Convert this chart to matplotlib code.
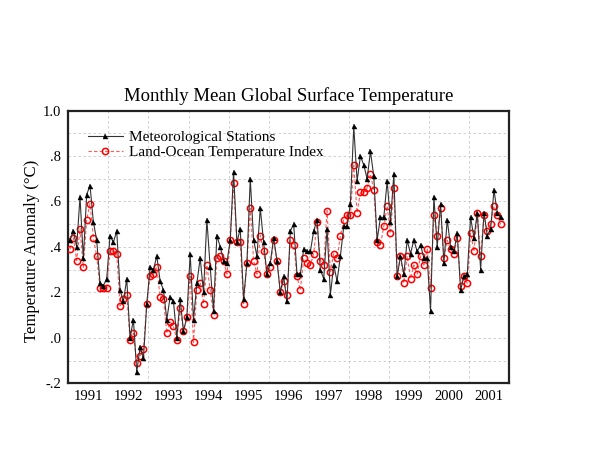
import numpy as np
import matplotlib
matplotlib.use("Agg")
import matplotlib.pyplot as plt
from matplotlib.ticker import FixedLocator

start_year = 1991
met_stations = [
    0.43, 0.47, 0.40, 0.62, 0.35, 0.63, 0.67, 0.51, 0.43, 0.24, 0.23, 0.26,
    0.45, 0.42, 0.47, 0.21, 0.16, 0.26, 0.00, 0.08, -0.15, -0.04, -0.09, 0.15,
    0.31, 0.30, 0.36, 0.25, 0.21, 0.08, 0.18, 0.16, 0.00, 0.17, 0.03, 0.09,
    0.37, 0.08, 0.24, 0.35, 0.20, 0.52, 0.31, 0.12, 0.45, 0.40, 0.34, 0.33,
    0.43, 0.73, 0.42, 0.48, 0.17, 0.33, 0.70, 0.43, 0.36, 0.57, 0.42, 0.28,
    0.33, 0.44, 0.34, 0.20, 0.27, 0.16, 0.47, 0.50, 0.28, 0.28, 0.39, 0.38,
    0.38, 0.47, 0.52, 0.30, 0.26, 0.48, 0.19, 0.32, 0.25, 0.36, 0.49, 0.49,
    0.59, 0.93, 0.69, 0.80, 0.76, 0.70, 0.82, 0.71, 0.43, 0.53, 0.53, 0.69,
    0.51, 0.72, 0.27, 0.36, 0.28, 0.43, 0.37, 0.43, 0.38, 0.41, 0.35, 0.35,
    0.12, 0.62, 0.40, 0.59, 0.33, 0.52, 0.40, 0.38, 0.46, 0.21, 0.27, 0.28,
    0.53, 0.44, 0.55, 0.30, 0.55, 0.45, 0.48, 0.65, 0.55, 0.53,
]
land_ocean = [
    0.39, 0.44, 0.34, 0.48, 0.31, 0.52, 0.59, 0.44, 0.36, 0.22, 0.22, 0.22,
    0.38, 0.38, 0.37, 0.14, 0.17, 0.19, -0.01, 0.02, -0.11, -0.08, -0.05, 0.15,
    0.27, 0.28, 0.31, 0.18, 0.17, 0.02, 0.07, 0.05, -0.01, 0.13, 0.03, 0.09,
    0.27, -0.02, 0.21, 0.24, 0.15, 0.32, 0.21, 0.10, 0.35, 0.36, 0.34, 0.28,
    0.43, 0.68, 0.42, 0.42, 0.15, 0.33, 0.57, 0.34, 0.28, 0.45, 0.38, 0.28,
    0.31, 0.43, 0.34, 0.20, 0.25, 0.19, 0.43, 0.41, 0.27, 0.21, 0.35, 0.33,
    0.32, 0.37, 0.51, 0.34, 0.32, 0.56, 0.29, 0.37, 0.35, 0.45, 0.52, 0.54,
    0.54, 0.76, 0.55, 0.64, 0.64, 0.66, 0.72, 0.65, 0.42, 0.41, 0.49, 0.58,
    0.46, 0.66, 0.27, 0.36, 0.24, 0.36, 0.26, 0.32, 0.28, 0.36, 0.32, 0.39,
    0.22, 0.54, 0.45, 0.57, 0.35, 0.43, 0.39, 0.37, 0.44, 0.23, 0.27, 0.24,
    0.46, 0.38, 0.55, 0.36, 0.54, 0.47, 0.50, 0.58, 0.54, 0.50,
]
year_labels = [str(y) for y in range(1991, 2002)]
y_ticks = [1.0, 0.8, 0.6, 0.4, 0.2, 0.0, -0.2]
y_tick_labels = ["1.0", ".8", ".6", ".4", ".2", ".0", "-.2"]

plt.rcParams['font.family'] = ['Liberation Serif', 'DejaVu Serif']

n = len(met_stations)
x = start_year + (np.arange(n) + 0.5) / 12.0

fig = plt.figure(figsize=(5.92, 4.58), dpi=100)
ax = fig.add_axes([0.1154, 0.1631, 0.7444, 0.5956])

ax.plot(x, land_ocean, color='#ff5a5a', linestyle=(0, (3, 2)), linewidth=0.8,
        marker='o', markersize=4.5, markerfacecolor='none',
        markeredgecolor='red', markeredgewidth=1.1,
        label='Land-Ocean Temperature Index', zorder=3)
ax.plot(x, met_stations, color='#333333', linestyle='-', linewidth=0.8,
        marker='^', markersize=3.6, markerfacecolor='black',
        markeredgecolor='black', markeredgewidth=0.3,
        label='Meteorological Stations', zorder=4)

ax.set_xlim(1991, 2002)
ax.set_ylim(-0.2, 1.0)

ax.xaxis.set_major_locator(FixedLocator(np.arange(1992, 2002)))
ax.xaxis.set_minor_locator(FixedLocator(np.arange(1991, 2002) + 0.5))
ax.xaxis.set_minor_formatter(matplotlib.ticker.FixedFormatter(year_labels))
ax.xaxis.set_major_formatter(matplotlib.ticker.NullFormatter())
ax.tick_params(axis='x', which='both', length=0, labelsize=10.5, pad=5)

ax.set_yticks(y_ticks)
ax.set_yticklabels(y_tick_labels)
ax.yaxis.set_minor_locator(FixedLocator(np.arange(-0.1, 1.0, 0.2)))
ax.tick_params(axis='y', which='both', length=0, labelsize=10.5, pad=5)

ax.grid(True, which='major', axis='x', color='#c8c8c8', linestyle=(0, (3, 3)), linewidth=0.6)
ax.grid(True, which='both', axis='y', color='#c8c8c8', linestyle=(0, (3, 3)), linewidth=0.6)
ax.set_axisbelow(True)

for s in ax.spines.values():
    s.set_linewidth(1.6)
    s.set_color('#222222')

ax.set_title('Monthly Mean Global Surface Temperature', fontsize=13.5, pad=7)
ax.set_ylabel('Temperature Anomaly (°C)', fontsize=12)
ax.yaxis.set_label_coords(-0.064, 0.485)

handles, labels = ax.get_legend_handles_labels()
leg = ax.legend(handles[::-1], labels[::-1], loc='upper left', frameon=False,
                fontsize=11, handlelength=2.3, handletextpad=0.4,
                labelspacing=0.05, borderaxespad=0.3, bbox_to_anchor=(0.02, 0.965))

fig.savefig('out.png', dpi=100)
